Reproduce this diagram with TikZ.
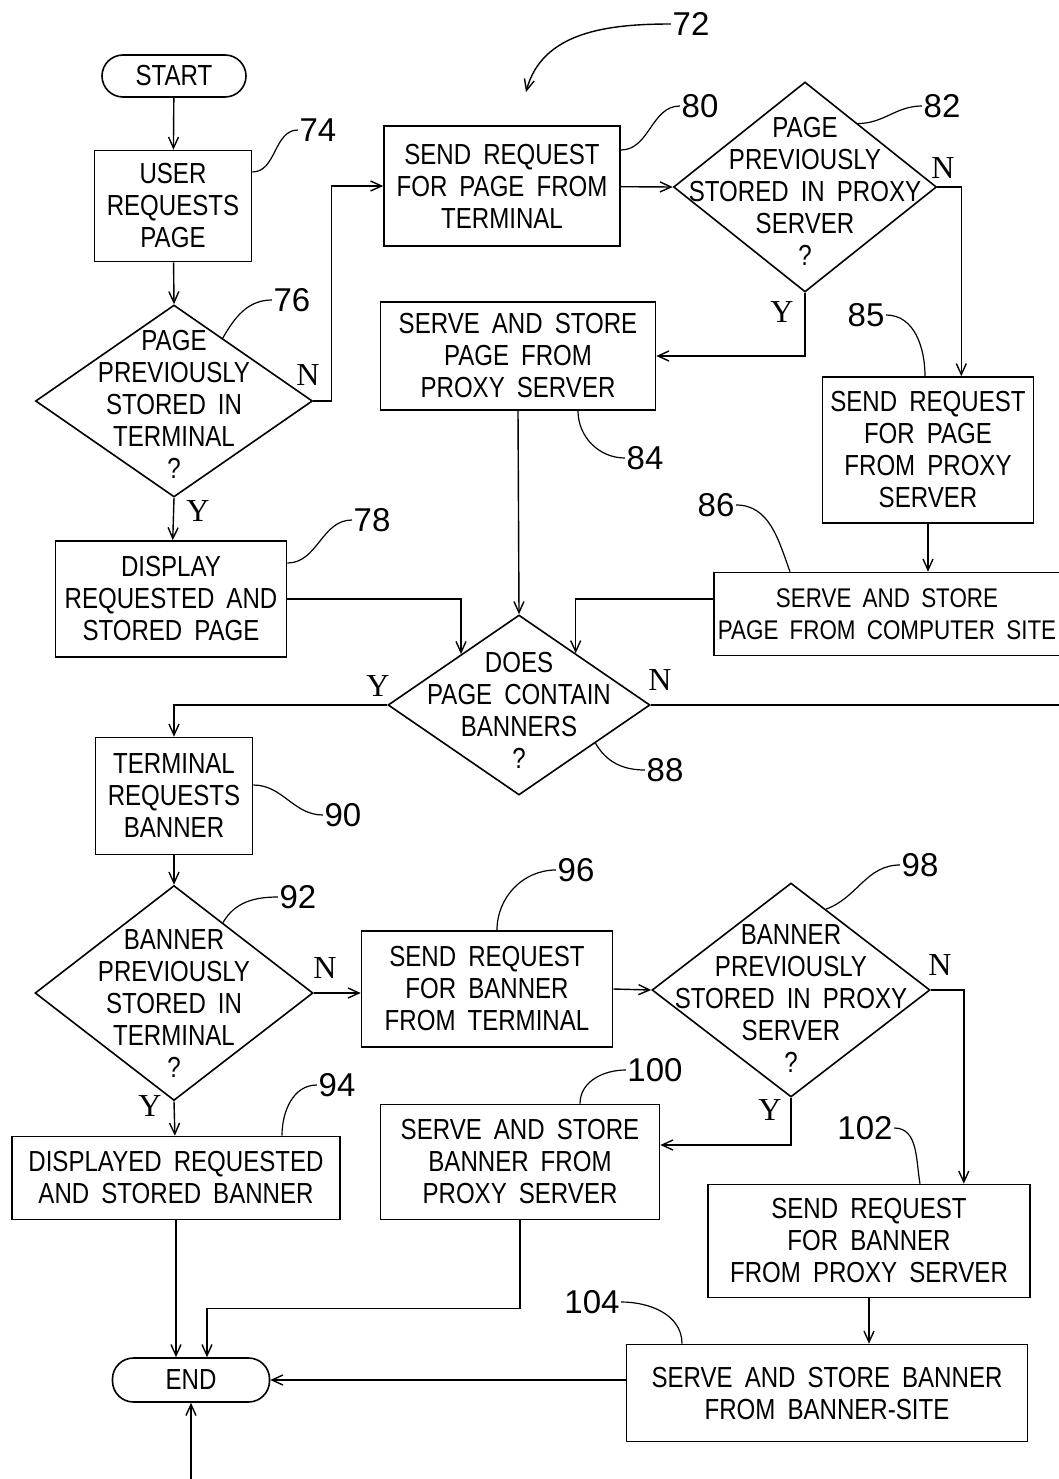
\documentclass[tikz,border=0pt]{standalone}
\usepackage{fontspec}
\setmainfont{Liberation Sans}[FakeStretch=0.83, WordSpace=1.8]
\newfontfamily\ynfont{Liberation Serif}
\newfontfamily\numfont{Liberation Sans}
\usetikzlibrary{shapes.geometric, arrows.meta, calc}
\tikzset{
    >={Straight Barb[length=11pt,width=10pt]}, % open arrow heads
    box/.style 2 args={draw, line width=1.6pt, minimum width=#1pt, minimum height=#2pt, inner sep=0pt, align=center, font=\fontsize{29}{32}\selectfont}, % process steps
    terminal/.style 2 args={draw, line width=1.6pt, rounded corners=21pt, minimum width=#1pt, minimum height=#2pt, inner sep=0pt, font=\fontsize{29}{32}\selectfont}, % start and end
    decision/.style 2 args={diamond, draw, line width=1.6pt, minimum width=#1pt, minimum height=#2pt, inner sep=0pt}, % questions
    dtext/.style={align=center, inner sep=0pt, font=\fontsize{29}{32}\selectfont}, % text inside a question
    refnum/.style={inner sep=1pt, font=\numfont\fontsize{33}{36}\selectfont}, % reference numerals
    yn/.style={inner sep=0pt, font=\ynfont\fontsize{32}{34}\selectfont}, % Y and N answers
    leader/.style={-, line width=1.2pt}, % lines to the numerals
}
\begin{document}
\begin{tikzpicture}[x=1pt, y=-1pt, line width=1.4pt, ->]
\useasboundingbox (0,0) rectangle (1058,1479);
% page steps
\node[terminal={144}{42}] (start) at (174,76) {START};
\node[box={157}{111}] (n74) at (173,206) {USER\\REQUESTS\\PAGE};
\node[decision={277}{192}, label={[dtext, yshift=-3pt]center:PAGE\\PREVIOUSLY\\STORED IN\\TERMINAL\\?}] (d76) at (174,401) {};
\node[box={231}{116}] (n78) at (171,599) {DISPLAY\\REQUESTED AND\\STORED PAGE};
\node[box={236}{120}] (n80) at (502,186) {SEND REQUEST\\FOR PAGE FROM\\TERMINAL};
\node[decision={263}{210}, label={[dtext, yshift=-4pt]center:PAGE\\PREVIOUSLY\\STORED IN PROXY\\SERVER\\?}] (d82) at (805,187) {};
\node[box={275}{108}] (n84) at (518,356) {SERVE AND STORE\\PAGE FROM\\PROXY SERVER};
\node[box={211}{146}] (n85) at (928,450) {SEND REQUEST\\FOR PAGE\\FROM PROXY\\SERVER};
\node[box={346}{83}, font=\fontsize{27}{32}\selectfont] (n86) at (887,614) {SERVE AND STORE\\PAGE FROM COMPUTER SITE};
\node[decision={262}{180}, label={[dtext, yshift=-5pt]center:DOES\\PAGE CONTAIN\\BANNERS\\?}] (d88) at (519,705) {};
% banner steps
\node[box={157}{117}] (n90) at (174,796) {TERMINAL\\REQUESTS\\BANNER};
\node[decision={278}{215}, label={[dtext, yshift=-11pt]center:BANNER\\PREVIOUSLY\\STORED IN\\TERMINAL\\?}] (d92) at (174,993) {};
\node[box={328}{83}] (n94) at (176,1178) {DISPLAYED REQUESTED\\AND STORED BANNER};
\node[box={251}{116}] (n96) at (487,989) {SEND REQUEST\\FOR BANNER\\FROM TERMINAL};
\node[decision={278}{214}, label={[dtext, yshift=-9pt]center:BANNER\\PREVIOUSLY\\STORED IN PROXY\\SERVER\\?}] (d98) at (791,990) {};
\node[box={279}{115}] (n100) at (520,1162) {SERVE AND STORE\\BANNER FROM\\PROXY SERVER};
\node[box={322}{113}] (n102) at (869,1241) {SEND REQUEST\\FOR BANNER\\FROM PROXY SERVER};
\node[box={401}{97}] (n104) at (827,1393) {SERVE AND STORE BANNER\\FROM BANNER-SITE};
\node[terminal={157}{44}] (end) at (191,1380) {END};
\coordinate (rim) at (1100,1530);
% connectors
\draw (start) -- (n74);
\draw (n74) -- (d76.north);
\draw (d76.south) -- (n78);
\draw (d76.east) -- ++(18,0) |- (n80.west);
\draw (n80) -- (d82.west);
\draw (d82.east) -- ++(24,0) coordinate (c82) -- (c82 |- n85.north);
\draw (d82.south) |- (n84.east);
\draw (n85.south) -- (n85.south |- n86.north);
\draw ([yshift=15pt]n86.west) -| ($(d88.north)!0.43!(d88.east)$);
\draw (n78.east) -| ($(d88.north)!0.44!(d88.west)$);
\draw (n84.south) -- (d88.north);
\draw (d88.west) -| (n90.north);
\draw (d88.east) -| (rim) -| (end.south);
\draw (n90) -- (d92.north);
\draw (d92.east) -- (n96.west |- d92.east);
\draw (d92.south) -- (n94);
\draw (n96.east) -- (d98.west);
\draw (d98.east) -- ++(33,0) coordinate (c98) -- (c98 |- n102.north);
\draw (d98.south) |- ([yshift=17pt]n100.east);
\draw (n94.south) -- (n94.south |- end.north);
\draw (n100.south) -- ++(0,88) -| ([xshift=16pt]end.north);
\draw (n102.south) -- (n102.south |- n104.north);
\draw (n104.west |- end.east) -- (end.east);
% answers
\node[yn] (n76a) at (308,375) {N};
\node[yn] (y76a) at (198,511) {Y};
\node[yn] (n82a) at (943,168) {N};
\node[yn] (y82a) at (782,312) {Y};
\node[yn] (y88a) at (378,686) {Y};
\node[yn] (n88a) at (660,680) {N};
\node[yn] (n92a) at (325,968) {N};
\node[yn] (y92a) at (150,1106) {Y};
\node[yn] (n98a) at (940,965) {N};
\node[yn] (y98a) at (770,1110) {Y};
% reference numerals
\node[refnum] (l72) at (691,24) {72};
\node[refnum] (l74) at (318,130) {74};
\node[refnum] (l76) at (292,300) {76};
\node[refnum] (l78) at (372,520) {78};
\node[refnum] (l80) at (700,106) {80};
\node[refnum] (l82) at (942,106) {82};
\node[refnum] (l84) at (645,458) {84};
\node[refnum] (l85) at (866,315) {85};
\node[refnum] (l86) at (716,505) {86};
\node[refnum] (l88) at (665,770) {88};
\node[refnum] (l90) at (343,815) {90};
\node[refnum] (l92) at (298,897) {92};
\node[refnum] (l94) at (337,1085) {94};
\node[refnum] (l96) at (576,870) {96};
\node[refnum] (l98) at (920,865) {98};
\node[refnum] (l100) at (655,1070) {100};
\node[refnum] (l102) at (865,1128) {102};
\node[refnum] (l104) at (592,1302) {104};
\coordinate (c72) at (526,92);
\draw (l72.west) to[out=180, in=75] (c72);
\draw[leader] ([yshift=34pt]n74.east) to[out=0, in=180] (l74.west);
\draw[leader] ($(d76.north)!0.35!(d76.east)$) to[out=60, in=180] (l76.west);
\draw[leader] ([yshift=36pt]n78.east) to[out=0, in=180] (l78.west);
\draw[leader] ([yshift=36pt]n80.east) to[out=0, in=180] (l80.west);
\draw[leader] ($(d82.north)!0.40!(d82.east)$) to[out=0, in=180] (l82.west);
\draw[leader] ([xshift=60pt]n84.south) to[out=-90, in=180] (l84.west);
\draw[leader] (l85.east) to[out=0, in=90] ([xshift=-3pt]n85.north);
\draw[leader] (l86.east) to[out=0, in=110] (n86.north -| 790,0);
\draw[leader] ($(d88.east)!0.42!(d88.south)$) to[out=-60, in=180] (l88.west);
\draw[leader] ([yshift=11pt]n90.east) to[out=0, in=180] (l90.west);
\draw[leader] ($(d92.north)!0.35!(d92.east)$) to[out=60, in=180] (l92.west);
\draw[leader] ([xshift=106pt]n94.north) to[out=90, in=180] (l94.west);
\draw[leader] ([xshift=10pt]n96.north) to[out=90, in=180] (l96.west);
\draw[leader] ($(d98.north)!0.25!(d98.east)$) to[out=20, in=180] (l98.west);
\draw[leader] ([xshift=60pt]n100.north) to[out=90, in=180] (l100.west);
\draw[leader] (l102.east) to[out=0, in=100] ([xshift=51pt]n102.north);
\draw[leader] (l104.east) to[out=0, in=90] ([xshift=-145pt]n104.north);
\end{tikzpicture}
\end{document}
